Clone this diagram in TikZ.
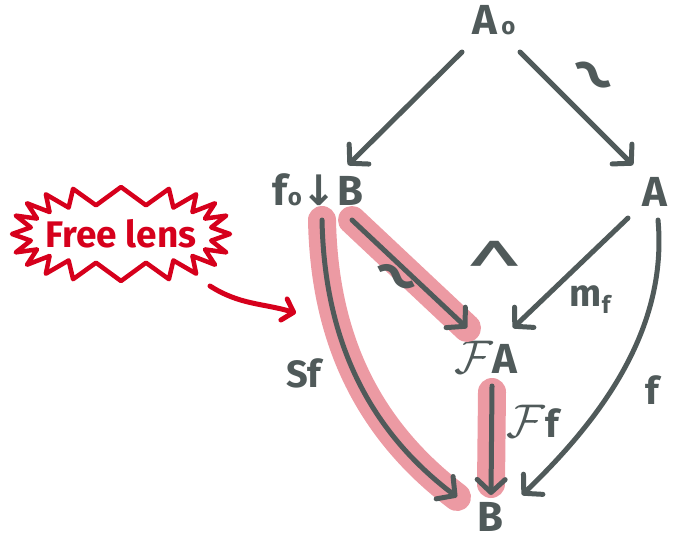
\documentclass[tikz,border=0pt]{standalone}
\usepackage{fontspec}
\setmainfont{Fira Sans}
\newfontfamily\symfont{DejaVu Sans}
\usetikzlibrary{arrows.meta}
\definecolor{ink}{RGB}{80,90,90}
\definecolor{hl}{RGB}{236,154,163}
\definecolor{redink}{RGB}{214,0,28}
\newcommand{\scrF}{\scalebox{1.9}{$\mathcal{F}$}}
\begin{document}
\begin{tikzpicture}[x=1pt,y=-1pt,
  obj/.style={font=\fontsize{42}{48}\selectfont\bfseries, text=ink, inner sep=0pt},
  lbl/.style={font=\fontsize{38}{44}\selectfont\bfseries, text=ink, inner sep=0pt},
  wave/.style={font=\fontsize{100}{100}\selectfont, text=ink, inner sep=0pt},
  arr/.style={draw=ink, line width=5pt, line cap=round, line join=round,
    -{Straight Barb[length=13pt,width=28pt,round]}},
  hlpath/.style={draw=hl, line width=28pt, line cap=round},
  redarr/.style={draw=redink, line width=5pt, line cap=round, line join=round,
    -{Straight Barb[length=10pt,width=22pt,round]}},
  burstline/.style={draw=redink, line width=4.5pt, line join=round},
]
\useasboundingbox (0,0) rectangle (676,542);

% objects
\node[obj] (A0) at (494,20) {A\hspace{4pt}{\fontsize{24}{24}\selectfont o}};
\node[obj] (fB) at (318,190) {f{\fontsize{24}{24}\selectfont o}{\symfont\bfseries ↓}B};
\node[obj] (A) at (655,192) {A};
\node[obj] (FA) at (486,357) {\scrF A};
\node[obj] (B) at (490,517) {B};

% highlights
\draw[hlpath] ([shift={(34,30)}]fB.center) -- ([shift={(-19,-29)}]FA.center);
\draw[hlpath] ([shift={(4,30)}]fB.center) .. controls (324,320) and (355,420) .. ([shift={(-33,-20)}]B.center);
\draw[hlpath] ([shift={(6,35)}]FA.center) -- ([shift={(1,-33)}]B.center);

% arrows
\draw[arr] ([shift={(-32,32)}]A0.center) -- ([shift={(30,-25)}]fB.center);
\draw[arr] ([shift={(26,32)}]A0.center) -- ([shift={(-22,-27)}]A.center);
\draw[arr] ([shift={(34,30)}]fB.center) -- ([shift={(-19,-29)}]FA.center);
\draw[arr] ([shift={(4,30)}]fB.center) .. controls (324,320) and (355,420) .. ([shift={(-33,-20)}]B.center);
\draw[arr] ([shift={(6,29)}]FA.center) -- ([shift={(1,-22)}]B.center);
\draw[arr] ([shift={(-27,26)}]A.center) -- ([shift={(27,-29)}]FA.center);
\draw[arr] ([shift={(3,28)}]A.center) .. controls (668,330) and (600,420) .. ([shift={(32,-22)}]B.center);

% labels
\node[wave, rotate=-40] (t1) at (586,84) {\textasciitilde};
\node[wave, rotate=-35] (t2) at (389,287) {\textasciitilde};
\node[font=\fontsize{80}{80}\selectfont, text=ink, inner sep=0pt, xscale=1.3] (hat) at (495,275) {\textasciicircum};
\node[lbl] (mf) at (590,300) {m\raisebox{-7pt}{\fontsize{24}{24}\selectfont f}};
\node[lbl] (Sf) at (304,373) {Sf};
\node[lbl] (Ff) at (533,421) {\scrF f};
\node[lbl] (f) at (652,390) {f};

% free lens
\node[text=redink, inner sep=0pt, font=\fontsize{37}{44}\selectfont\bfseries] (burst) at (121,234) {Free lens};
\draw[burstline, shift={(burst.center)}]
  plot[samples=41, domain=0:360, variable=\t]
  ({sign(cos(\t))*pow(abs(cos(\t)),0.7)*(100+9*cos(20*\t))},
   {sign(sin(\t))*pow(abs(sin(\t)),0.8)*(38+9*cos(20*\t))}) -- cycle;
\coordinate (lensT) at (296,313);
\draw[redarr] ([shift={(89,52)}]burst.center) .. controls (240,305) and (262,303) .. (lensT);
\end{tikzpicture}
\end{document}
